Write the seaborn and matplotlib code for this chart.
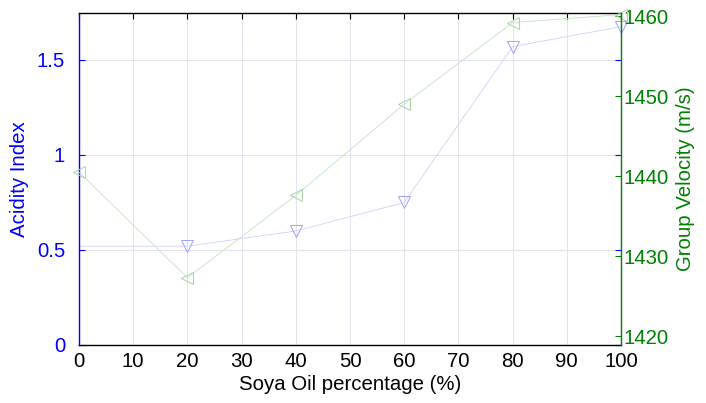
import matplotlib
matplotlib.use("Agg")
import matplotlib.pyplot as plt
import seaborn as sns
import pandas as pd

soya_pct = [0, 20, 40, 60, 80, 100]
acidity = [0.52, 0.52, 0.60, 0.75, 1.57, 1.675]
velocity = [1440.5, 1427.3, 1437.6, 1449.0, 1459.2, 1460.2]
x_ticks = [0, 10, 20, 30, 40, 50, 60, 70, 80, 90, 100]
left_ticks = [0, 0.5, 1, 1.5]
left_labels = ["0", "0.5", "1", "1.5"]
right_ticks = [1420, 1430, 1440, 1450, 1460]

sns.set_style("white")
plt.rcParams["font.family"] = ["Liberation Sans", "DejaVu Sans"]
FS = 14.7
plt.rcParams["font.size"] = FS

df = pd.DataFrame({"pct": soya_pct, "acid": acidity, "vel": velocity})

fig = plt.figure(figsize=(7.06, 4.03), dpi=100)
ax = fig.add_axes([79/706, 58/403, 542/706, 332/403])
ax2 = ax.twinx()

blue = "#0000ff"
green = "#008000"

sns.lineplot(data=df, x="pct", y="acid", ax=ax, color="#d0d0ff", lw=0.6,
             marker="v", markersize=8, markerfacecolor="none",
             markeredgecolor="#a0a0ff", markeredgewidth=0.7,
             markevery=[1, 2, 3, 4, 5])
sns.lineplot(data=df, x="pct", y="vel", ax=ax2, color="#c4e2c4", lw=0.6,
             marker="<", markersize=8, markerfacecolor="none",
             markeredgecolor="#a8d4a8", markeredgewidth=0.7)
for a in (ax, ax2):
    for ln in a.lines:
        ln.set_clip_on(False)

ax.set_xlim(0, 100)
ax.set_ylim(0, 1.747)
ax2.set_ylim(1418.9, 1460.4)
ax.set_xticks(x_ticks)
ax.set_yticks(left_ticks)
ax.set_yticklabels(left_labels)
ax2.set_yticks(right_ticks)

ax.grid(True, color="#e4e4ee", lw=0.8)
ax.set_axisbelow(True)

ax.set_xlabel("Soya Oil percentage (%)", fontsize=FS, color="black", labelpad=3)
ax.set_ylabel("Acidity Index", fontsize=FS, color=blue, labelpad=6)
ax2.set_ylabel("Group Velocity (m/s)", fontsize=FS, color=green, labelpad=5)

ax.tick_params(axis="x", direction="in", top=True, colors="black", length=4,
               labelsize=FS, pad=5)
ax.tick_params(axis="y", direction="in", right=True, colors=blue, length=4,
               labelsize=FS, pad=10)
ax2.tick_params(axis="y", direction="in", colors=green, length=4,
                labelsize=FS, pad=2)

for s in ["top", "bottom"]:
    ax.spines[s].set_color("black")
    ax2.spines[s].set_visible(False)
ax.spines["left"].set_color(blue)
ax.spines["right"].set_visible(False)
ax2.spines["left"].set_visible(False)
ax2.spines["right"].set_color(green)
for a in (ax, ax2):
    for s in a.spines.values():
        s.set_linewidth(1.0)

fig.savefig("out.png", dpi=100)
